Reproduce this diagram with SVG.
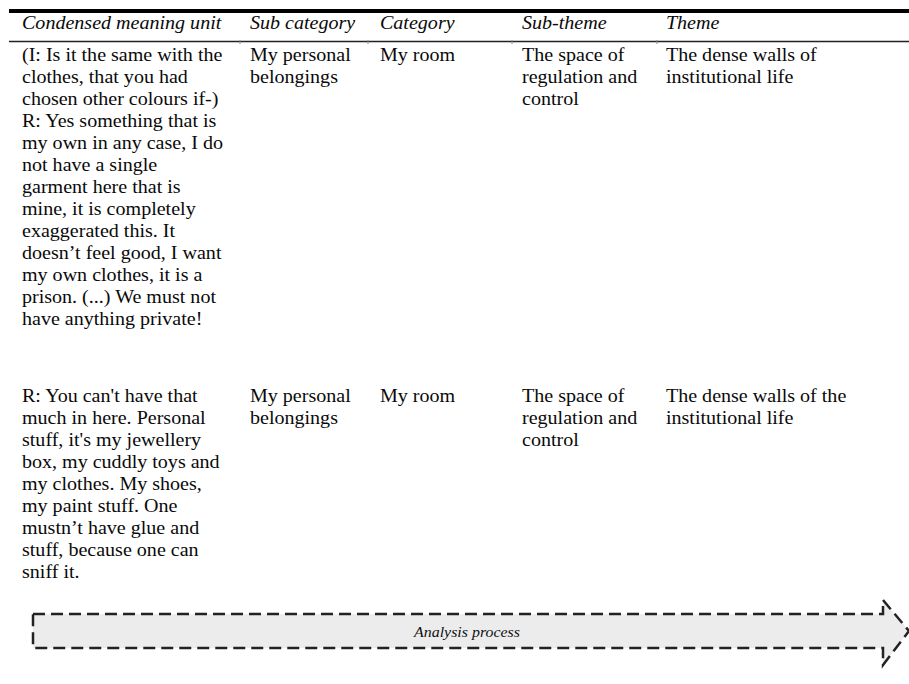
<svg xmlns="http://www.w3.org/2000/svg" width="909" height="684" viewBox="0 0 909 684">
<style>
.t{font-family:"Liberation Serif","Times New Roman",serif;font-size:18px;fill:#0a0a0a}
.h{font-family:"Liberation Serif","Times New Roman",serif;font-size:18px;font-style:italic;fill:#0a0a0a}
.a{font-family:"Liberation Serif","Times New Roman",serif;font-size:14.3px;font-style:italic;fill:#111}
</style>
<rect width="909" height="684" fill="#fff"/>
<g id="table-rules">
<line x1="9" y1="11" x2="909" y2="11" stroke="#000" stroke-width="4"/>
<line x1="9" y1="41.5" x2="909" y2="41.5" stroke="#222" stroke-width="1.3"/>
<g stroke="#888" stroke-width="1"><line x1="240" y1="40" x2="240" y2="44"/><line x1="368" y1="40" x2="368" y2="44"/><line x1="512" y1="40" x2="512" y2="44"/><line x1="657" y1="40" x2="657" y2="44"/></g>
</g>
<g id="header" transform="scale(1.114,1)">
<text class="h" x="19.75" y="29">Condensed meaning unit</text>
<text class="h" x="224.4" y="29">Sub category</text>
<text class="h" x="341.1" y="29">Category</text>
<text class="h" x="468.6" y="29">Sub-theme</text>
<text class="h" x="597.8" y="29">Theme</text>
</g>
<g id="row1" transform="scale(1.114,1)">
<text class="t" x="19.75" y="61">(I: Is it the same with the</text>
<text class="t" x="19.75" y="83">clothes, that you had</text>
<text class="t" x="19.75" y="105">chosen other colours if-)</text>
<text class="t" x="19.75" y="127">R: Yes something that is</text>
<text class="t" x="19.75" y="149">my own in any case, I do</text>
<text class="t" x="19.75" y="171">not have a single</text>
<text class="t" x="19.75" y="193">garment here that is</text>
<text class="t" x="19.75" y="215">mine, it is completely</text>
<text class="t" x="19.75" y="237">exaggerated this. It</text>
<text class="t" x="19.75" y="259">doesn’t feel good, I want</text>
<text class="t" x="19.75" y="281">my own clothes, it is a</text>
<text class="t" x="19.75" y="303">prison. (...) We must not</text>
<text class="t" x="19.75" y="325">have anything private!</text>
<text class="t" x="224.4" y="61">My personal</text>
<text class="t" x="224.4" y="83">belongings</text>
<text class="t" x="341.1" y="61">My room</text>
<text class="t" x="468.6" y="61">The space of</text>
<text class="t" x="468.6" y="83">regulation and</text>
<text class="t" x="468.6" y="105">control</text>
<text class="t" x="597.8" y="61">The dense walls of</text>
<text class="t" x="597.8" y="83">institutional life</text>
</g>
<g id="row2" transform="scale(1.114,1)">
<text class="t" x="19.75" y="402">R: You can't have that</text>
<text class="t" x="19.75" y="424">much in here. Personal</text>
<text class="t" x="19.75" y="446">stuff, it's my jewellery</text>
<text class="t" x="19.75" y="468">box, my cuddly toys and</text>
<text class="t" x="19.75" y="490">my clothes. My shoes,</text>
<text class="t" x="19.75" y="512">my paint stuff. One</text>
<text class="t" x="19.75" y="534">mustn’t have glue and</text>
<text class="t" x="19.75" y="556">stuff, because one can</text>
<text class="t" x="19.75" y="578">sniff it.</text>
<text class="t" x="224.4" y="402">My personal</text>
<text class="t" x="224.4" y="424">belongings</text>
<text class="t" x="341.1" y="402">My room</text>
<text class="t" x="468.6" y="402">The space of</text>
<text class="t" x="468.6" y="424">regulation and</text>
<text class="t" x="468.6" y="446">control</text>
<text class="t" x="597.8" y="402">The dense walls of the</text>
<text class="t" x="597.8" y="424">institutional life</text>
</g>
<g id="analysis-arrow">
<path d="M33,614 L883,614 L883,600 L909,631 L883,665 L883,648 L33,648 Z" fill="#ececec" stroke="#222" stroke-width="2.5" stroke-dasharray="12,6"/>
<text class="a" x="419.2" y="637" text-anchor="middle" transform="scale(1.114,1)">Analysis process</text>
</g>
</svg>
